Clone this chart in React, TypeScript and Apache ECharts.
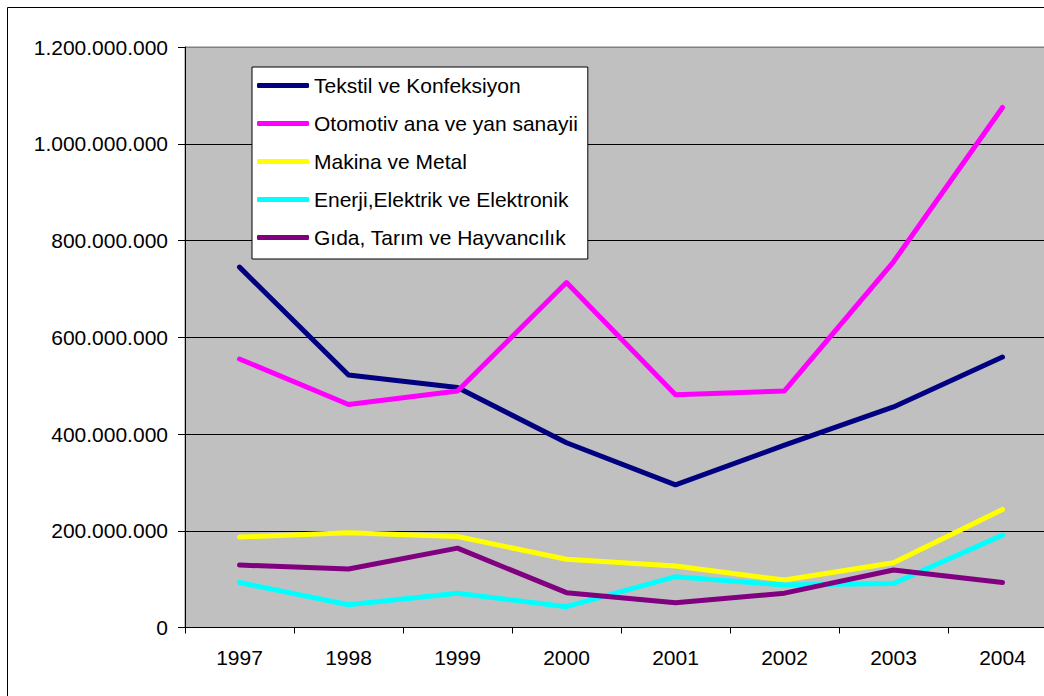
import React, { useEffect, useRef } from "react";
import * as echarts from "echarts";

const years = ["1997", "1998", "1999", "2000", "2001", "2002", "2003", "2004"];
const tekstil = [745e6, 522e6, 496e6, 382e6, 295e6, 377e6, 456e6, 559e6];
const otomotiv = [555e6, 461e6, 489e6, 713e6, 481e6, 489e6, 756e6, 1075e6];
const makina = [187e6, 196e6, 188e6, 141e6, 127e6, 98e6, 134e6, 244e6];
const enerji = [93e6, 47e6, 71e6, 43e6, 105e6, 88e6, 91e6, 191e6];
const gida = [129e6, 121e6, 164e6, 72e6, 51e6, 71e6, 119e6, 93e6];

const seriesNames = [
  "Tekstil ve Konfeksiyon",
  "Otomotiv ana ve yan sanayii",
  "Makina ve Metal",
  "Enerji,Elektrik ve Elektronik",
  "Gıda, Tarım ve Hayvancılık",
];
const seriesData = [tekstil, otomotiv, makina, enerji, gida];
const seriesColors = ["#000080", "#FF00FF", "#FFFF00", "#00FFFF", "#800080"];

const FONT = "'Liberation Sans', Arial, sans-serif";

function fmt(v: number): string {
  if (v === 0) return "0";
  return String(Math.round(v)).replace(/\B(?=(\d{3})+(?!\d))/g, ".");
}

export default function App() {
  const ref = useRef<HTMLDivElement>(null);
  useEffect(() => {
    if (!ref.current) return;
    const chart = echarts.init(ref.current, undefined, { renderer: "svg" });
    chart.setOption({
      animation: false,
      backgroundColor: "#ffffff",
      textStyle: { fontFamily: FONT },
      graphic: [
        {
          type: "rect",
          shape: { x: 7.5, y: 7.5, width: 1200, height: 1200 },
          style: { fill: "none", stroke: "#000", lineWidth: 1 },
          silent: true,
          z: -1,
        },
      ],
      grid: {
        left: 185,
        top: 47,
        right: 3,
        bottom: 68.5,
        show: true,
        backgroundColor: "#C0C0C0",
        borderColor: "#808080",
        borderWidth: 1,
      },
      legend: {
        orient: "vertical",
        left: 252,
        top: 67,
        backgroundColor: "#ffffff",
        borderColor: "#000",
        borderWidth: 1,
        padding: [8, 10, 11, 5],
        itemGap: 17,
        itemWidth: 52,
        itemHeight: 5,
        icon: "roundRect",
        textStyle: { fontFamily: FONT, fontSize: 21, color: "#000", lineHeight: 21 },
        data: seriesNames,
      },
      xAxis: {
        type: "category",
        data: years,
        boundaryGap: true,
        axisLine: { show: true, lineStyle: { color: "#000", width: 1 } },
        axisTick: { show: true, length: 6, lineStyle: { color: "#000" } },
        axisLabel: { fontFamily: FONT, fontSize: 21, color: "#000", margin: 19 },
        splitLine: { show: false },
      },
      yAxis: {
        type: "value",
        min: 0,
        max: 1.2e9,
        interval: 2e8,
        axisLine: { show: true, lineStyle: { color: "#000", width: 1 } },
        axisTick: { show: true, length: 7, lineStyle: { color: "#000" } },
        axisLabel: {
          fontFamily: FONT,
          fontSize: 21,
          color: "#000",
          margin: 17,
          formatter: (v: number) => fmt(v),
        },
        splitLine: {
          show: true,
          lineStyle: {
            color: ["#000", "#000", "#000", "#000", "#000", "#000", "#808080"],
            width: 1,
          },
        },
      },
      series: seriesNames.map((name, i) => ({
        name,
        type: "line",
        data: seriesData[i],
        showSymbol: false,
        symbol: "none",
        color: seriesColors[i],
        lineStyle: { color: seriesColors[i], width: 5, cap: "round", join: "round" },
      })),
    });
    return () => chart.dispose();
  }, []);
  return (
    <div
      style={{
        position: "fixed",
        left: 0,
        top: 0,
        width: 1044,
        height: 696,
        overflow: "hidden",
        background: "#fff",
      }}
    >
      <div ref={ref} style={{ width: 1060, height: 696 }} />
    </div>
  );
}
